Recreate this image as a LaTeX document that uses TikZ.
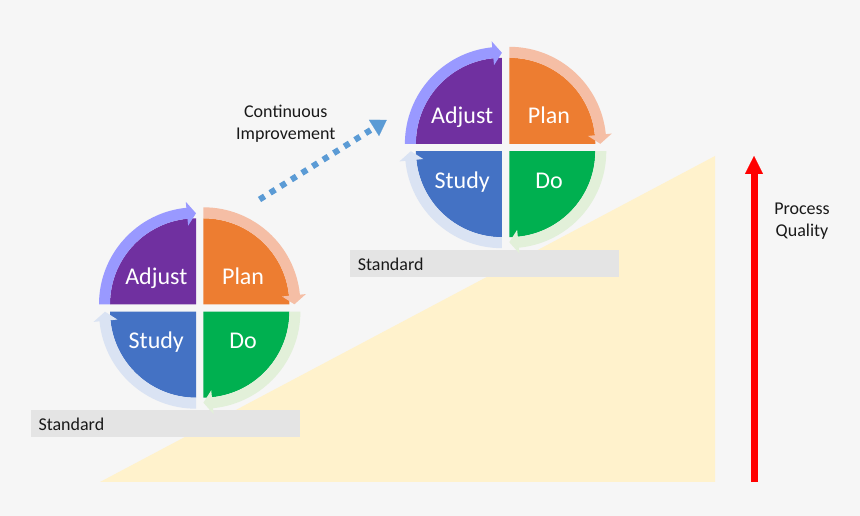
\documentclass[tikz,border=0pt]{standalone}
\usepackage{fontspec}
\setmainfont{Carlito}
\usetikzlibrary{arrows.meta, calc}
\definecolor{cbg}{RGB}{246,246,246}
\definecolor{cramp}{RGB}{255,242,204}
\definecolor{cbar}{RGB}{228,228,228}
\definecolor{cpurple}{RGB}{112,48,160}
\definecolor{cpurpleband}{RGB}{153,153,255}
\definecolor{corange}{RGB}{237,125,49}
\definecolor{corangeband}{RGB}{245,190,165}
\definecolor{cgreen}{RGB}{0,176,80}
\definecolor{cgreenband}{RGB}{226,240,217}
\definecolor{cblue}{RGB}{68,114,196}
\definecolor{cblueband}{RGB}{218,227,243}
\definecolor{cdots}{RGB}{91,155,213}
\tikzset{
  quadlabel/.style={   % white text inside a wheel quarter
    text=white, anchor=base, inner sep=0pt,
    font=\fontsize{24}{28}\selectfont
  },
  stdbar/.style={      % grey "Standard" plate
    fill=cbar, anchor=south west, align=left,
    text width=253.8pt, inner xsep=7.6pt, inner ysep=0pt,
    minimum height=27.5pt, text height=12.6pt, text depth=0pt,
    font=\fontsize{18}{21}\selectfont, text=black!90
  },
  sidetext/.style={    % plain black captions (base = last line)
    align=center, anchor=base, inner sep=0pt,
    font=\fontsize{18}{22}\selectfont, text=black!90
  },
  ciarr/.style={draw=cdots, line width=6pt, dash pattern=on 6pt off 6.5pt,
    -{Triangle[length=15pt, width=19pt, line width=0.1pt]}},
  qarr/.style={draw=red, line width=7pt,
    -{Triangle[length=18pt, width=18pt, line width=0.1pt]}},
}

\begin{document}
\begin{tikzpicture}[x=1pt, y=1pt]

\useasboundingbox (0,0) rectangle (860,516);
\fill[cbg] (0,0) rectangle (860,516);

%% ─── Quality ramp ───────────────────────────────────────────────────────────
\fill[cramp] (100,34) -- (715,34) -- (715,360) -- cycle;

%% ─── Standard plates ────────────────────────────────────────────────────────
\node[stdbar] (stdL) at ( 30.7, 78.3) {Standard};
\node[stdbar] (stdR) at (350.0,238.3) {Standard};

%% ─── PDCA wheels (left = lower, right = upper) ──────────────────────────────
\foreach \w/\cx/\cy in {L/199.7/208.0, R/505.6/368.5} {
  \begin{scope}[shift={(\cx,\cy)}]
    % quarter: start angle / corner offset / fill / ring arrow
    \foreach \s/\dx/\dy/\fc/\bc in {90/-1/1/cpurple/cpurpleband,
                                    0/1/1/corange/corangeband,
                                    -90/1/-1/cgreen/cgreenband,
                                    180/-1/-1/cblue/cblueband} {
      \begin{scope}[shift={(\dx*3.7,\dy*3.7)}]
        \fill[\fc] (0,0) -- (\s:86pt) arc[start angle=\s, end angle=\s+90, radius=86pt] -- cycle;
        \fill[\bc] (\s+90:86pt) arc[start angle=\s+90, end angle=\s+5.7, radius=86pt]
          -- (\s+5.7:79pt) -- (\s:91pt) -- (\s+5.7:103pt) -- (\s+5.7:97pt)
          arc[start angle=\s+5.7, end angle=\s+90, radius=97pt] -- cycle;
      \end{scope}
    }
    \node[quadlabel] (adjust\w) at (-43.4, 23.7) {Adjust};
    \node[quadlabel] (plan\w)   at ( 43.4, 23.7) {Plan};
    \node[quadlabel] (study\w)  at (-43.4,-40.7) {Study};
    \node[quadlabel] (do\w)     at ( 43.4,-40.7) {Do};
  \end{scope}
}

%% ─── Continuous improvement ─────────────────────────────────────────────────
\node[sidetext] (ci) at (285.8,376.0) {Continuous\\Improvement};
\coordinate (ciStart) at (259.5,316.5);
\coordinate (ciEnd)   at (386.7,396.0);
\draw[ciarr] (ciStart) -- (ciEnd);

%% ─── Process quality axis ───────────────────────────────────────────────────
\coordinate (qBottom) at (754,34);
\coordinate (qTop)    at (754,360);
\draw[qarr] (qBottom) -- (qTop);
\node[sidetext] (pq) at (802,279.3) {Process\\Quality};

\end{tikzpicture}
\end{document}
